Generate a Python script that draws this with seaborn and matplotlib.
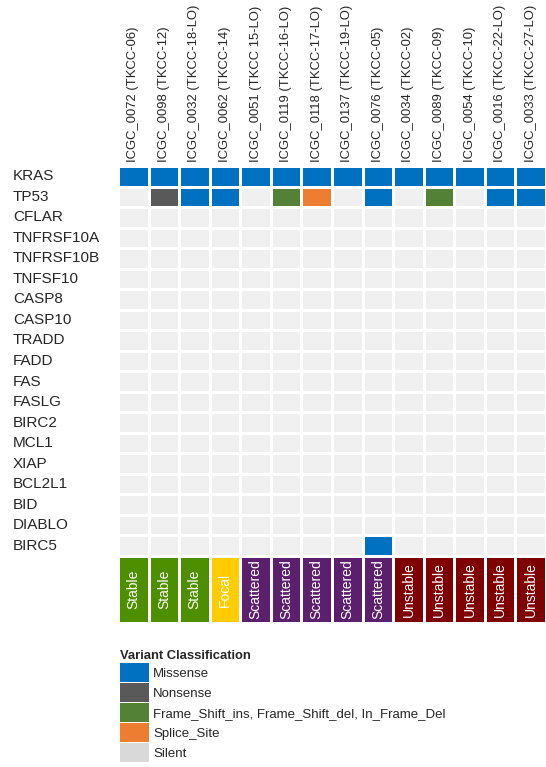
import numpy as np
import pandas as pd
import matplotlib
matplotlib.use("Agg")
import matplotlib.pyplot as plt
from matplotlib.colors import ListedColormap
from matplotlib.patches import Patch
import seaborn as sns

sns.set_theme(style="white")
plt.rcParams['font.family'] = ['Liberation Sans', 'DejaVu Sans']

samples = ["ICGC_0072 (TKCC-06)", "ICGC_0098 (TKCC-12)", "ICGC_0032 (TKCC-18-LO)",
           "ICGC_0062 (TKCC-14)", "ICGC_0051 (TKCC 15-LO)", "ICGC_0119 (TKCC-16-LO)",
           "ICGC_0118 (TKCC-17-LO)", "ICGC_0137 (TKCC-19-LO)", "ICGC_0076 (TKCC-05)",
           "ICGC_0034 (TKCC-02)", "ICGC_0089 (TKCC-09)", "ICGC_0054 (TKCC-10)",
           "ICGC_0016 (TKCC-22-LO)", "ICGC_0033 (TKCC-27-LO)"]
genes = ["KRAS", "TP53", "CFLAR", "TNFRSF10A", "TNFRSF10B", "TNFSF10", "CASP8",
         "CASP10", "TRADD", "FADD", "FAS", "FASLG", "BIRC2", "MCL1", "XIAP",
         "BCL2L1", "BID", "DIABLO", "BIRC5"]
kras = ["Missense"] * 14
tp53 = ["", "Nonsense", "Missense", "Missense", "", "Frame", "Splice", "",
        "Missense", "", "Frame", "", "Missense", "Missense"]
birc5 = ["", "", "", "", "", "", "", "", "Missense", "", "", "", "", ""]
subtypes = ["Stable", "Stable", "Stable", "Focal", "Scattered", "Scattered", "Scattered",
            "Scattered", "Scattered", "Unstable", "Unstable", "Unstable", "Unstable", "Unstable"]

variant_codes = {"": 0, "Missense": 1, "Nonsense": 2, "Frame": 3, "Splice": 4}
variant_colors = ["#F0F0F0", "#0070C0", "#595959", "#538135", "#ED7D31"]
subtype_order = ["Stable", "Focal", "Scattered", "Unstable"]
subtype_colors = ["#4E8F00", "#FFCC00", "#5B1F6E", "#7F0000"]
legend_labels = ["Missense", "Nonsense", "Frame_Shift_ins, Frame_Shift_del, In_Frame_Del",
                 "Splice_Site", "Silent"]
legend_colors = ["#0070C0", "#595959", "#538135", "#ED7D31", "#D9D9D9"]

rows = {g: [""] * 14 for g in genes}
rows["KRAS"] = kras
rows["TP53"] = tp53
rows["BIRC5"] = birc5
mat = pd.DataFrame([[variant_codes[v] for v in rows[g]] for g in genes],
                   index=genes, columns=samples)

W, H = 546, 767
fig = plt.figure(figsize=(W / 100, H / 100), dpi=100)
ax = fig.add_axes([118 / W, 1 - 556 / H, 428 / W, 390 / H])
sns.heatmap(mat, ax=ax, cmap=ListedColormap(variant_colors), vmin=-0.5, vmax=4.5,
            cbar=False, linewidths=2, linecolor="white")
ax.xaxis.tick_top()
ax.set_xticklabels(samples, rotation=90, fontsize=9.4, va="bottom")
ax.set_yticklabels(genes, rotation=0, fontsize=11, ha="left")
ax.tick_params(axis="x", length=0, pad=3)
ax.tick_params(axis="y", length=0, pad=75.6)
ax.set_xlabel("")
ax.set_ylabel("")

ax2 = fig.add_axes([118 / W, 1 - 623 / H, 428 / W, 67 / H])
sub = pd.DataFrame([[subtype_order.index(s) for s in subtypes]], columns=samples)
sns.heatmap(sub, ax=ax2, cmap=ListedColormap(subtype_colors), vmin=-0.5, vmax=3.5,
            cbar=False, linewidths=2, linecolor="white", xticklabels=False,
            yticklabels=False)
for i, s in enumerate(subtypes):
    ax2.text(i + 0.5, 0.5, s, rotation=90, ha="center", va="center",
             color="white", fontsize=10)

handles = [Patch(facecolor=c, edgecolor="none") for c in legend_colors]
leg = fig.legend(handles, legend_labels, title="Variant Classification",
                 loc="upper left", bbox_to_anchor=(120 / W, 1 - 650 / H),
                 frameon=False, fontsize=9.5,
                 title_fontproperties={"weight": "bold", "size": 9.4},
                 handlelength=2.2, handleheight=1.84, labelspacing=0.076,
                 handletextpad=0.3, borderpad=0, borderaxespad=0)
leg._legend_box.align = "left"

fig.savefig("out.png", dpi=100)
